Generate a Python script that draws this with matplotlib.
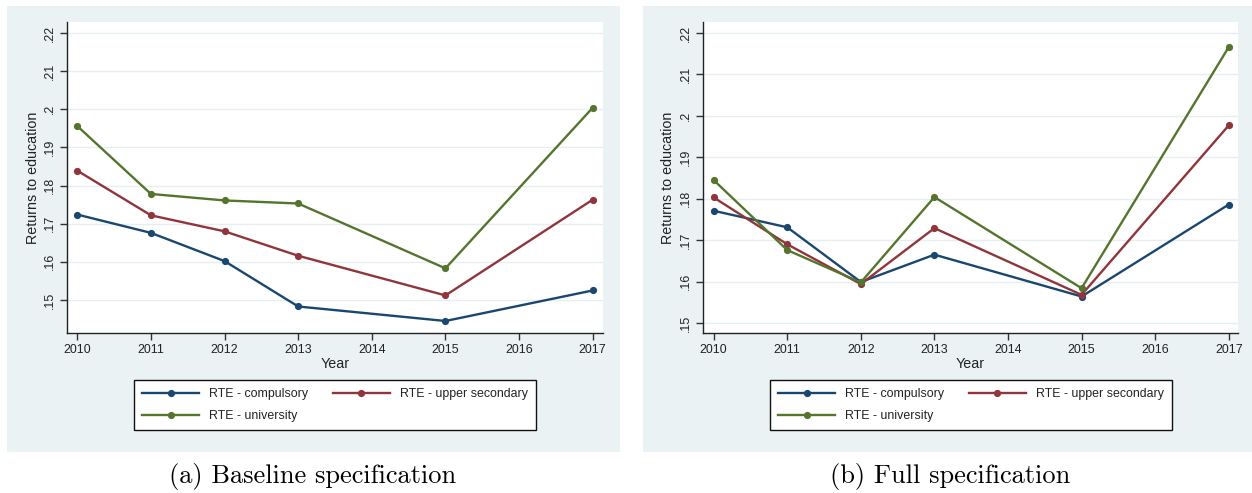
import matplotlib
matplotlib.use("Agg")
import matplotlib.pyplot as plt
from matplotlib.patches import Rectangle

years = [2010, 2011, 2012, 2013, 2015, 2017]
xticks = [2010, 2011, 2012, 2013, 2014, 2015, 2016, 2017]
yticks = [0.15, 0.16, 0.17, 0.18, 0.19, 0.20, 0.21, 0.22]
ytick_labels = [".15", ".16", ".17", ".18", ".19", ".2", ".21", ".22"]

# (a) Baseline specification
base_compulsory = [0.1724, 0.1676, 0.1602, 0.1483, 0.1445, 0.1525]
base_upper = [0.1839, 0.1722, 0.1680, 0.1616, 0.1512, 0.1763]
base_university = [0.1956, 0.1778, 0.1761, 0.1753, 0.1583, 0.2004]

# (b) Full specification
full_compulsory = [0.1771, 0.1731, 0.1599, 0.1665, 0.1564, 0.1786]
full_upper = [0.1803, 0.1690, 0.1594, 0.1729, 0.1568, 0.1977]
full_university = [0.1845, 0.1676, 0.1598, 0.1804, 0.1584, 0.2166]

series_names = ["RTE - compulsory", "RTE - upper secondary", "RTE - university"]
colors = ["#1a476f", "#90353b", "#55752f"]
captions = ["(a) Baseline specification", "(b) Full specification"]

W, H = 1252, 493
fig = plt.figure(figsize=(W / 100, H / 100), dpi=100)
fig.patch.set_facecolor("white")

BG = "#eaf2f3"
SANS = ["Liberation Sans", "DejaVu Sans"]

def fx(px):
    return px / W

def fy(py):
    return 1 - py / H

# gray panel backgrounds
for x0, x1 in [(7, 619.5), (643, 1252)]:
    fig.patches.append(Rectangle((fx(x0), fy(452)), fx(x1 - x0), (452 - 6) / H,
                                 transform=fig.transFigure, facecolor=BG,
                                 edgecolor="none", zorder=0))

panels = [
    dict(ax_px=(67, 602.7), ylim=(0.14135, 0.22288), xlim=(2009.86, 2017.136),
         data=[base_compulsory, base_upper, base_university],
         legend_px=(133, 380.7, 536.7, 430), cap_x=313, ylab_x=33.5),
    dict(ax_px=(703.3, 1238), ylim=(0.14759, 0.22266), xlim=(2009.859, 2017.126),
         data=[full_compulsory, full_upper, full_university],
         legend_px=(769, 380.7, 1172.7, 430), cap_x=950, ylab_x=668.5),
]

for i, p in enumerate(panels):
    xa, xb = p["ax_px"]
    ax = fig.add_axes([fx(xa), fy(333), fx(xb - xa), (333 - 22) / H])
    ax.set_facecolor("white")
    ax.set_zorder(2)
    handles = []
    for vals, name, c in zip(p["data"], series_names, colors):
        h, = ax.plot(years, vals, color=c, lw=1.7, marker="o", ms=5.2,
                     markeredgewidth=0, label=name, zorder=3)
        handles.append(h)
    ax.set_xlim(*p["xlim"])
    ax.set_ylim(*p["ylim"])
    ax.set_xticks(xticks)
    ax.set_xticklabels([str(t) for t in xticks], fontsize=8.9, family=SANS,
                       color="#222222")
    ax.set_yticks(yticks)
    ax.set_yticklabels(ytick_labels, fontsize=8.9, family=SANS, rotation=90,
                       va="center", color="#222222")
    for s in ["top", "right"]:
        ax.spines[s].set_visible(False)
    for s in ["left", "bottom"]:
        ax.spines[s].set_color("#222222")
        ax.spines[s].set_linewidth(1.0)
    ax.tick_params(axis="both", direction="out", length=5, width=1.0,
                   color="#333333")
    ax.tick_params(axis="x", pad=3)
    ax.tick_params(axis="y", pad=3)
    ax.yaxis.grid(True, color="#e6eef0", lw=1.0, zorder=0)
    ax.xaxis.grid(False)
    ax.set_axisbelow(True)
    ax.set_xlabel("Year", fontsize=10.3, family=SANS, color="#222222")
    ax.xaxis.set_label_coords(0.5, -(364 - 333) / (333 - 22), transform=ax.transAxes)
    ax.xaxis.label.set_va("center")
    ax.set_ylabel("Returns to education", fontsize=10.3, family=SANS, color="#222222")
    ax.yaxis.set_label_coords(-(xa - p["ylab_x"]) / (xb - xa), 0.5,
                              transform=ax.transAxes)
    ax.yaxis.label.set_va("center")

    lx0, ly0, lx1, ly1 = p["legend_px"]
    leg = fig.legend([handles[0], handles[2], handles[1]],
                     [series_names[0], series_names[2], series_names[1]],
                     ncol=2, loc="center",
                     bbox_to_anchor=(fx((lx0 + lx1) / 2), fy((ly0 + ly1) / 2)),
                     bbox_transform=fig.transFigure,
                     prop={"family": SANS, "size": 8.9},
                     frameon=True, fancybox=False, shadow=False,
                     edgecolor="#111111", facecolor="white", framealpha=1,
                     handlelength=4.6, handletextpad=0.8, columnspacing=2.0,
                     labelspacing=0.8, borderpad=0.65, markerscale=1.0)
    leg.get_frame().set_linewidth(1.0)
    for t in leg.get_texts():
        t.set_color("#222222")

    fig.text(fx(p["cap_x"]), fy(476), captions[i], ha="center", va="center",
             fontsize=19, family=["cmr10", "DejaVu Serif"], color="black")

fig.savefig("out.png", dpi=100, facecolor="white")
